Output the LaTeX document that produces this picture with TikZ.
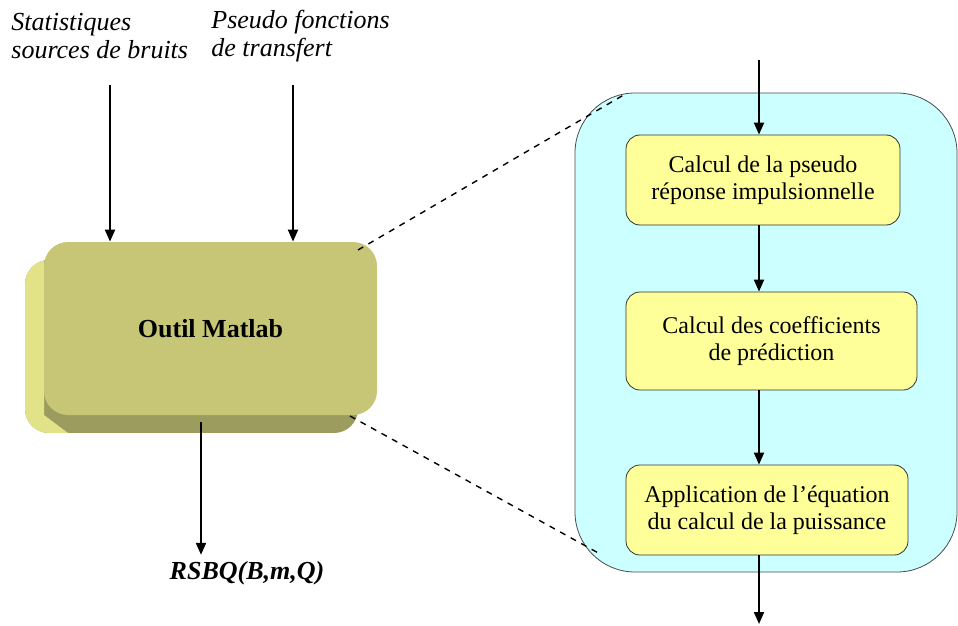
\documentclass[tikz,border=0pt]{standalone}
\usepackage{fontspec}
\setmainfont{Liberation Serif}
\usetikzlibrary{arrows.meta,positioning}
\definecolor{olive}{HTML}{C6C676}
\definecolor{olivelight}{HTML}{E2E288}
\definecolor{olivedark}{HTML}{9C9C5E}
\definecolor{panelcyan}{HTML}{CCFFFF}
\definecolor{boxyellow}{HTML}{FFFF99}

\begin{document}
\begin{tikzpicture}[x=0.5pt,y=-0.5pt,
  arr/.style={-{Triangle[length=6pt,width=5pt]},line width=1pt},
  stepbox/.style={draw=black!80,fill=boxyellow,rounded corners=7pt,align=center,
    font=\fontsize{12}{13.5}\selectfont,inner sep=0pt},
  lbl/.style={align=left,font=\fontsize{13}{14}\selectfont\itshape,inner sep=0pt}]
  \useasboundingbox (0,0) rectangle (958,626);
  % zoomed panel
  \node[draw=black!70,fill=panelcyan,rounded corners=30pt,minimum width=191pt,
    minimum height=239.5pt,inner sep=0pt] (panel) at (766,332.5) {};
  % matlab block with its depth
  \begin{scope}
    \clip[rounded corners=12pt] (25,260) rectangle (358,433);
    \fill[olivedark] (25,260) rectangle (358,433);
    \fill[olivelight] (25,242) -- (44,242) -- (44,415) -- (68,433) -- (25,433) -- cycle;
  \end{scope}
  \node[fill=olive,rounded corners=12pt,minimum width=166.5pt,minimum height=86.5pt,
    font=\fontsize{13}{15}\selectfont\bfseries] (matlab) at (210.5,328.5) {Outil Matlab};
  % inputs
  \node[lbl,anchor=west] (noise) at (11,36) {Statistiques\\sources de bruits};
  \node[lbl,anchor=west] (transfer) at (211,36) {Pseudo fonctions\\de transfert};
  \coordinate (noisein) at (110,85);
  \coordinate (transferin) at (293,85);
  \draw[arr] (noisein) -- (noisein |- matlab.north);
  \draw[arr] (transferin) -- (transferin |- matlab.north);
  % output
  \node[font=\fontsize{13}{15}\selectfont\bfseries\itshape,inner xsep=0pt,inner ysep=3pt] (rsbq) at (247,573) {RSBQ(B,m,Q)};
  \coordinate (matlabout) at (201,422);
  \draw[arr] (matlabout) -- (matlabout |- rsbq.north);
  % steps
  \node[stepbox,minimum width=137pt,minimum height=45pt] (impulse) at (763,180)
    {Calcul de la pseudo\\réponse impulsionnelle};
  \node[stepbox,minimum width=145.5pt,minimum height=49pt] (coeffs) at (771.5,341)
    {Calcul des coefficients\\de prédiction};
  \node[stepbox,minimum width=141pt,minimum height=45pt] (power) at (767,510)
    {Application de l’équation\\du calcul de la puissance};
  \coordinate (in) at (759,60);
  \coordinate (out) at (759,624);
  \draw[arr] (in) -- (in |- impulse.north);
  \draw[arr] (impulse.south -| in) -- (coeffs.north -| in);
  \draw[arr] (coeffs.south -| in) -- (power.north -| in);
  \draw[arr] (power.south -| in) -- (out);
  % zoom lines
  \coordinate (magtop) at (358,250);
  \coordinate (magbot) at (350,416);
  \coordinate (zoomtop) at (627,93);
  \coordinate (zoombot) at (602,555);
  \draw[dashed,line width=0.7pt] (magtop) -- (zoomtop);
  \draw[dashed,line width=0.7pt] (magbot) -- (zoombot);
\end{tikzpicture}
\end{document}
